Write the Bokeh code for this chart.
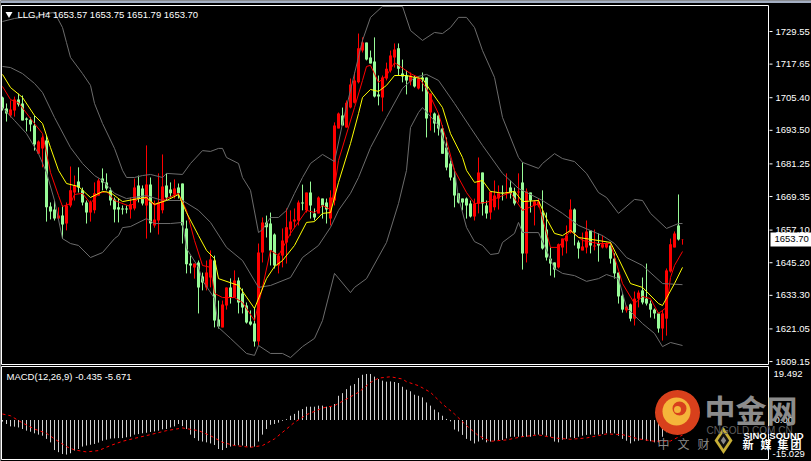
from bokeh.plotting import figure
from bokeh.models import Label, BoxAnnotation, ColumnDataSource, Range1d
from bokeh.embed import file_html
from bokeh.resources import INLINE

title_text = "LLG,H4  1653.57 1653.75 1651.79 1653.70"
macd_text = "MACD(12,26,9) -0.435 -5.671"
price_ticks = [1729.55, 1717.65, 1705.40, 1693.50, 1681.25, 1669.35, 1657.10, 1645.20, 1633.30, 1621.05, 1609.15]

opens = [1705.5,1701.5,1698.9,1700.7,1704.7,1703.3,1697.8,1697.4,1695.3,1685.0,
1686.9,1689.8,1665.7,1664.6,1661.3,1662.4,1659.5,1666.1,1670.8,1674.8,
1671.6,1667.2,1663.5,1664.3,1669.7,1675.9,1674.5,1671.6,1668.3,1665.4,
1665.0,1665.0,1664.6,1665.0,1673.4,1672.3,1666.1,1673.7,1658.8,1660.6,
1664.3,1673.4,1671.9,1670.1,1672.6,1674.1,1657.7,1644.9,1643.5,1645.3,
1640.2,1636.2,1639.8,1646.0,1624.5,1621.6,1629.6,1636.2,1632.5,1638.7,
1634.0,1629.6,1623.8,1623.0,1616.5,1648.9,1659.9,1659.5,1655.5,1644.2,
1647.8,1652.6,1657.3,1660.2,1660.6,1667.2,1664.3,1670.8,1663.2,1663.2,
1668.6,1667.2,1661.3,1667.9,1694.2,1698.9,1694.5,1701.8,1703.6,1711.0,
1722.6,1725.5,1720.1,1718.6,1706.6,1705.5,1712.4,1715.3,1720.1,1723.4,
1714.2,1713.5,1711.3,1712.8,1708.8,1712.8,1712.8,1700.0,1699.6,1698.9,
1694.2,1687.2,1681.4,1676.3,1670.5,1668.6,1668.6,1666.8,1662.1,1666.8,
1678.1,1666.1,1663.5,1665.4,1668.6,1670.8,1670.5,1672.6,1671.2,1670.8,
1674.5,1648.6,1670.8,1666.1,1666.1,1663.5,1657.3,1646.7,1645.3,1643.5,
1650.8,1653.0,1656.2,1664.6,1652.6,1649.7,1650.8,1657.0,1651.1,1652.2,
1650.8,1650.8,1651.5,1646.7,1641.6,1633.2,1627.8,1630.0,1624.8,1632.1,
1635.1,1632.1,1630.3,1628.1,1626.7,1621.2,1624.8,1642.0,1650.8,1658.8,1653.57]

closes = [1701.5,1699.6,1701.1,1704.7,1702.9,1697.1,1697.4,1695.6,1688.3,1689.4,
1690.9,1665.4,1663.9,1661.3,1662.4,1659.1,1666.1,1671.6,1673.4,1672.6,
1667.2,1663.5,1667.2,1670.5,1675.2,1674.5,1672.3,1667.9,1664.6,1664.6,
1664.6,1664.6,1666.5,1672.6,1668.6,1666.8,1673.7,1659.5,1661.0,1667.2,
1673.0,1669.0,1670.5,1672.3,1670.5,1658.8,1644.6,1644.2,1644.9,1636.2,
1638.0,1641.6,1646.4,1624.1,1621.9,1630.0,1636.2,1632.5,1638.7,1630.7,
1628.9,1623.4,1622.7,1616.5,1648.9,1659.9,1658.1,1649.7,1644.2,1647.8,
1653.3,1658.1,1660.2,1661.0,1667.2,1666.8,1670.8,1666.1,1661.7,1669.0,
1666.1,1664.6,1669.0,1695.3,1699.6,1695.3,1703.6,1710.2,1711.7,1723.4,
1725.5,1719.3,1717.9,1705.8,1705.8,1712.8,1716.0,1720.8,1723.0,1716.0,
1713.1,1711.7,1713.5,1709.5,1712.4,1712.0,1697.8,1706.9,1696.0,1694.2,
1685.0,1679.9,1676.3,1669.7,1667.2,1667.2,1666.1,1662.1,1666.8,1678.1,
1666.8,1663.2,1671.2,1669.7,1670.5,1670.5,1670.8,1670.5,1666.8,1671.2,
1648.6,1671.2,1667.9,1667.5,1667.5,1650.4,1647.1,1644.9,1642.7,1651.9,
1654.0,1655.1,1664.6,1656.2,1650.4,1651.1,1656.6,1651.5,1651.5,1651.5,
1651.9,1652.2,1646.7,1641.3,1632.9,1628.1,1629.2,1624.8,1632.1,1634.3,
1630.7,1630.3,1628.1,1626.7,1621.2,1626.7,1642.4,1651.9,1655.9,1653.7,1653.70]

highs = [1705.8,1703.3,1704.4,1705.8,1706.9,1706.2,1698.2,1698.2,1698.9,1689.8,
1691.6,1691.6,1667.2,1667.9,1665.4,1666.1,1667.2,1680.3,1677.0,1680.0,
1672.6,1667.9,1667.9,1674.5,1675.9,1679.6,1677.8,1672.6,1669.0,1668.6,
1666.1,1666.1,1669.0,1675.9,1677.0,1673.4,1688.0,1676.3,1667.9,1677.8,
1684.7,1677.8,1674.5,1675.6,1674.1,1674.1,1660.6,1647.8,1644.9,1646.0,
1641.6,1646.0,1649.7,1647.8,1631.4,1631.4,1636.2,1639.5,1642.4,1639.8,
1635.8,1630.7,1627.8,1628.9,1652.2,1661.7,1662.4,1663.5,1655.9,1648.6,
1657.7,1665.0,1664.3,1665.0,1667.9,1673.7,1670.8,1674.8,1665.0,1669.4,
1668.6,1668.6,1671.6,1696.4,1700.0,1701.8,1704.4,1712.4,1714.6,1728.8,
1727.4,1725.5,1722.6,1727.4,1713.5,1713.5,1718.2,1722.6,1725.2,1725.2,
1719.3,1715.3,1714.6,1713.5,1712.8,1714.6,1712.8,1706.9,1700.0,1699.6,
1695.3,1690.9,1682.5,1678.9,1670.5,1668.6,1669.0,1667.9,1668.6,1683.6,
1678.1,1667.9,1671.2,1675.2,1673.4,1673.4,1677.8,1675.2,1672.6,1677.8,
1681.8,1672.3,1670.8,1667.9,1668.6,1671.6,1663.5,1650.8,1645.3,1652.2,
1654.0,1658.8,1668.3,1665.0,1653.3,1656.2,1660.6,1657.0,1657.3,1655.9,
1655.1,1652.6,1652.6,1648.6,1641.6,1634.0,1629.6,1630.3,1634.7,1635.1,
1639.8,1644.9,1631.4,1628.5,1627.0,1627.8,1643.1,1654.0,1656.6,1670.1,1653.75]

lows = [1700.7,1696.7,1698.2,1698.5,1702.2,1697.1,1693.1,1693.1,1686.1,1685.0,
1680.0,1660.2,1661.0,1660.6,1661.3,1654.0,1657.0,1665.4,1667.9,1670.8,
1666.1,1659.5,1660.2,1663.2,1669.7,1671.6,1671.6,1666.1,1659.9,1659.9,
1662.8,1663.2,1661.3,1664.3,1667.2,1666.1,1654.0,1656.2,1658.0,1655.5,
1663.2,1667.9,1669.0,1668.6,1668.6,1652.2,1641.3,1641.3,1639.4,1626.7,
1635.1,1635.1,1636.2,1621.6,1621.2,1621.6,1628.1,1630.3,1632.5,1626.7,
1626.7,1623.0,1622.3,1614.6,1615.0,1645.3,1654.4,1644.2,1643.1,1641.3,
1643.5,1644.9,1655.1,1658.1,1658.8,1664.3,1663.5,1661.3,1660.6,1663.2,
1661.3,1659.5,1658.8,1666.1,1694.2,1695.3,1694.5,1701.5,1703.3,1710.6,
1721.9,1719.0,1717.9,1705.5,1702.6,1700.4,1711.7,1714.6,1716.4,1713.5,
1711.0,1706.6,1709.9,1709.1,1708.4,1707.7,1690.9,1693.4,1692.7,1691.6,
1685.0,1678.9,1675.2,1665.4,1666.8,1664.3,1661.3,1661.7,1660.6,1663.2,
1662.4,1661.3,1661.0,1664.3,1664.6,1667.9,1668.6,1668.6,1666.1,1667.2,
1642.7,1645.3,1663.5,1658.8,1665.4,1650.0,1646.0,1640.5,1639.8,1643.1,
1647.8,1648.6,1655.9,1651.5,1646.7,1649.7,1648.6,1648.6,1649.7,1645.6,
1650.4,1650.4,1644.9,1639.4,1630.3,1627.0,1627.0,1623.8,1622.3,1628.9,
1630.0,1629.6,1625.2,1624.8,1619.7,1616.8,1618.6,1641.6,1650.8,1653.3,1651.79]

upper_idx = [0,3,5,8,11,13,15,16,17,20,22,23,25,28,30,31,33,35,37,40,41,45,47,50,52,54,55,56,59,60,62,64,65,67,69,71,73,75,77,80,83,85,88,90,92,95,100,102,105,108,110,112,114,116,118,120,123,125,129,130,134,135,138,140,143,146,149,151,154,158,160,162,166,169,170]
upper_val = [1733.2,1734.3,1734.7,1734.7,1736.1,1736.5,1731.0,1725.5,1720.1,1714.2,1709.9,1703.3,1696.0,1686.9,1678.9,1676.3,1676.3,1677.0,1677.4,1676.3,1677.8,1677.4,1681.4,1686.1,1685.8,1686.9,1686.9,1683.6,1681.4,1676.3,1671.6,1656.2,1657.3,1661.7,1661.7,1664.3,1670.5,1676.3,1681.4,1684.7,1682.1,1696.0,1714.2,1726.3,1734.7,1738.7,1738.7,1729.9,1726.3,1729.2,1728.8,1731.0,1734.7,1734.7,1731.0,1722.6,1712.8,1698.2,1683.6,1681.8,1679.6,1681.4,1685.0,1683.2,1682.1,1677.8,1670.8,1669.0,1663.2,1668.3,1667.9,1663.2,1657.7,1659.5,1659.5]

mid_idx = [0,2,5,8,10,13,17,20,23,25,28,31,36,40,45,49,52,56,60,64,67,72,75,79,82,84,87,89,92,96,100,103,106,109,113,117,120,125,129,135,140,144,150,153,156,160,165,170]
mid_val = [1716.8,1716.4,1714.2,1710.6,1707.3,1698.2,1687.2,1681.4,1677.0,1675.2,1670.5,1668.6,1669.7,1667.9,1667.9,1664.3,1659.9,1650.8,1646.0,1636.2,1636.9,1639.8,1647.1,1651.5,1658.1,1664.3,1670.5,1676.3,1687.2,1698.2,1708.8,1712.8,1713.9,1711.7,1703.3,1694.5,1688.0,1677.8,1672.3,1667.9,1663.2,1658.8,1655.1,1652.2,1647.1,1644.2,1637.6,1637.2]

lower_idx = [0,3,6,9,11,13,15,17,19,22,25,28,29,30,32,36,38,42,45,46,49,50,53,54,57,61,63,64,67,70,72,75,78,80,83,87,88,91,96,99,101,102,104,105,109,113,114,116,118,120,122,124,125,128,129,130,134,136,138,140,143,146,149,151,154,156,160,163,165,167,170]
lower_val = [1701.8,1697.1,1692.3,1685.0,1678.1,1667.9,1654.0,1652.2,1651.5,1647.1,1648.9,1654.0,1655.1,1658.0,1658.4,1661.3,1659.5,1659.5,1659.9,1650.4,1643.5,1638.7,1632.2,1621.6,1617.6,1612.1,1611.4,1615.0,1612.1,1612.1,1610.6,1614.6,1617.6,1624.1,1641.3,1634.3,1636.2,1639.4,1652.6,1666.8,1678.9,1694.5,1700.0,1701.8,1695.3,1678.9,1669.0,1658.1,1652.9,1651.5,1648.2,1648.6,1652.6,1655.9,1659.9,1656.2,1656.2,1649.7,1643.1,1641.3,1640.5,1638.4,1639.4,1640.9,1639.4,1628.9,1623.0,1619.4,1614.6,1616.1,1615.0]

yellow_idx = [0,2,5,8,10,12,14,16,19,22,25,27,30,34,36,38,41,44,46,49,51,53,54,59,63,66,68,70,73,76,78,80,82,84,87,89,90,92,94,96,98,101,103,105,107,110,112,115,116,118,120,122,124,125,128,130,134,136,138,140,142,144,149,152,154,157,160,164,165,168,170]
yellow_val = [1713.9,1709.1,1705.5,1698.9,1696.0,1687.2,1678.9,1674.1,1673.0,1669.0,1671.2,1670.8,1667.5,1668.6,1669.0,1666.5,1667.9,1670.1,1663.5,1655.1,1649.7,1646.7,1639.4,1636.9,1628.5,1639.4,1643.8,1646.0,1651.5,1659.9,1660.2,1663.2,1663.5,1674.5,1688.7,1699.6,1705.5,1708.4,1707.7,1709.9,1713.5,1713.5,1712.8,1712.4,1708.0,1701.8,1692.3,1683.6,1678.9,1674.5,1675.2,1671.2,1670.8,1670.5,1671.2,1667.5,1667.9,1661.3,1655.9,1655.1,1657.0,1654.4,1653.3,1652.6,1646.7,1637.6,1636.2,1630.3,1629.6,1637.6,1643.5]

red_idx = [0,2,4,7,10,12,14,15,17,18,20,22,24,26,28,32,34,36,38,41,44,46,48,50,52,53,55,58,60,63,65,67,69,72,76,78,80,82,83,84,88,90,91,92,94,96,98,102,104,106,109,111,113,116,118,121,125,127,130,134,137,139,142,145,149,152,155,158,160,162,164,166,167,168,170]
red_val = [1709.5,1704.7,1703.6,1697.8,1692.3,1678.1,1669.7,1665.7,1666.8,1670.1,1670.5,1666.8,1670.5,1671.2,1667.9,1665.7,1668.6,1668.6,1666.1,1668.6,1670.5,1664.3,1653.3,1644.2,1643.5,1634.0,1632.5,1632.5,1630.7,1624.1,1636.2,1649.7,1647.8,1655.9,1664.3,1663.5,1666.1,1664.6,1672.6,1682.5,1701.8,1711.7,1716.8,1717.2,1711.0,1713.5,1718.2,1714.2,1712.8,1708.8,1699.6,1689.8,1678.9,1670.8,1666.8,1667.2,1669.7,1670.8,1664.3,1666.8,1650.8,1650.8,1657.0,1653.3,1652.2,1652.2,1637.6,1630.3,1632.9,1632.1,1626.7,1628.9,1639.8,1644.2,1649.3]

macd_hist = [-0.6,-1.5,-2.4,-2.5,-2.8,-3.4,-4.0,-4.4,-5.0,-5.5,-5.9,-7.1,-8.4,
-11.3,-12.1,-12.8,-13.0,-12.5,-11.5,-10.9,-10.0,-9.6,-9.3,-9.0,-8.5,-7.8,-7.4,-7.0,-6.9,-6.8,-6.8,-6.5,-6.3,-5.5,-5.3,-5.0,-4.8,-4.5,-4.3,-4.0,-3.5,-3.4,-2.8,-2.4,-1.5,
-2.3,-3.4,-5.5,-6.8,-7.8,-8.1,-8.4,-8.8,-9.4,-10.9,-11.3,-10.5,-10.0,-9.6,-9.5,-9.6,-9.9,-10.3,-10.0,-8.1,-5.5,-3.4,-1.8,-1.5,-1.0,-0.3,0.3,1.6,2.3,3.5,4.1,5.0,5.0,5.0,5.4,5.4,5.0,5.1,6.0,9.1,10.1,11.6,12.9,13.5,15.8,17.0,17.3,17.3,16.3,15.4,14.8,14.4,14.5,14.3,13.9,12.5,
11.4,10.8,9.5,9.1,8.5,6.6,5.4,3.9,2.9,1.6,0.4,-0.5,-3.6,-4.3,-5.6,-7.1,-7.8,-8.8,-8.1,-7.4,-8.4,-8.1,-7.8,-7.5,-7.5,-6.9,-6.3,-6.3,-6.3,-6.3,-6.3,-6.3,-5.5,-5.5,-5.5,-5.9,-6.3,-8.1,-8.4,-7.4,-7.1,-6.5,-6.8,-6.3,-5.9,-5.6,-5.5,-5.5,-5.5,-5.3,-5.0,-5.0,-5.0,-5.9,-7.1,-7.8,-8.8,-8.0,-7.8,-7.4,-7.8,-8.0,-8.4,-8.4,-6.3,-4.6,-3.5,-2.5,-1.5,-0.435]

signal_idx = [0,2,5,8,11,13,16,18,21,24,27,30,33,37,41,45,49,52,55,58,62,65,68,71,73,76,80,83,86,89,92,94,97,100,101,104,107,110,113,116,119,122,126,130,134,138,142,146,151,155,159,163,167,170]
signal_val = [2.25,1.6,-1.1,-3.4,-5.0,-7.1,-10.0,-11.25,-12.0,-11.5,-9.6,-8.0,-6.9,-5.5,-4.0,-3.0,-4.0,-5.9,-8.4,-9.6,-10.25,-9.6,-7.1,-3.4,-0.9,2.0,4.5,5.4,7.9,10.4,14.1,15.75,16.25,15.4,14.4,12.9,10.4,6.0,2.25,-2.1,-5.9,-8.0,-7.5,-6.25,-5.6,-6.75,-7.25,-6.75,-5.25,-5.5,-7.1,-8.0,-7.9,-5.671]

FONT = "Liberation Sans"
CJK = "Noto Sans CJK SC"
GREEN, RED, GRAY = "#98FB98", "#FF0000", "#6C6C6C"
W, H = 811, 461

def sx(px):   # pixel column -> bar index
    return (px - 2) / 4
def py(px):   # pixel row -> price
    return 1740.86 - 0.3648 * px
def my(px):   # pixel row -> MACD value
    return (419.5 - px) / 2.66

p = figure(width=W, height=H, x_range=(sx(0), sx(W)), y_range=(py(H), py(0)),
           x_axis_location=None, y_axis_location=None, toolbar_location=None,
           output_backend="svg", background_fill_color="black", border_fill_color="black",
           min_border_left=0, min_border_right=0, min_border_top=0, min_border_bottom=0,
           outline_line_color=None)
p.grid.visible = False
p.extra_y_ranges["macd"] = Range1d(my(H), my(0))
M = dict(y_range_name="macd")

def box(conv, left, right, top, bottom, **kw):
    p.segment([sx(left), sx(left), sx(right), sx(left)],
              [conv(top), conv(bottom), conv(top), conv(top)],
              [sx(right), sx(right), sx(right), sx(left)],
              [conv(top), conv(bottom), conv(bottom), conv(bottom)],
              line_color="white", line_width=1, **kw)

def lab(conv, text, px, ypx, size, color="white", font=FONT, style="normal", **kw):
    p.add_layout(Label(x=sx(px), y=conv(ypx), text=text, text_color=color, text_font=font,
                       text_font_size=size, text_baseline="middle", text_font_style=style, **kw))

# ---------- price panel ----------
p.add_layout(BoxAnnotation(left=sx(0), right=sx(W), top=py(0), bottom=py(2.5),
                           fill_color="#a3aec2", fill_alpha=1, line_color=None))

src = ColumnDataSource(dict(
    x=list(range(len(opens))), h=highs, l=lows,
    top=[max(a, b) for a, b in zip(opens, closes)],
    bot=[min(a, b) for a, b in zip(opens, closes)],
    col=[RED if c >= o else GREEN for o, c in zip(opens, closes)]))
p.segment("x", "h", "x", "l", source=src, line_color="col", line_width=1)
p.vbar("x", 0.75, "top", "bot", source=src, fill_color="col", line_color=None)

p.line(upper_idx, upper_val, line_color=GRAY, line_width=1)
p.line(mid_idx, mid_val, line_color=GRAY, line_width=1)
p.line(lower_idx, lower_val, line_color=GRAY, line_width=1)
p.line(red_idx, red_val, line_color=RED, line_width=1)
p.line(yellow_idx, yellow_val, line_color="#FFFF00", line_width=1)
box(py, 1, 768, 5, 364)
p.scatter([sx(8.5)], [py(13.5)], marker="inverted_triangle", size=7, fill_color="white", line_color=None)

p.segment([sx(769)] * len(price_ticks), price_ticks, [sx(772)] * len(price_ticks), price_ticks,
          line_color="white", line_width=1)
for t in price_ticks:
    p.add_layout(Label(x=sx(775), y=t, text=f"{t:.2f}", text_color="white", text_font=FONT,
                       text_font_size="9.5px", text_baseline="middle"))

lab(py, title_text, 17, 13.5, "9.5px")
p.add_layout(Label(x=sx(770), y=1653.70, text="1653.70", text_color="black", text_font=FONT,
                   text_font_size="9.5px", text_baseline="middle",
                   background_fill_color="white", padding=4))

# ---------- MACD panel ----------
hx = list(range(len(macd_hist)))
p.segment(hx, [0] * len(hx), hx, macd_hist, line_color="#D0D0D0", line_width=1, **M)
p.line(signal_idx, signal_val, line_color=RED, line_width=1, line_dash="3 3", **M)
box(my, 1, 768, 366, 459, **M)
p.segment([sx(769)], [0], [sx(772)], [0], line_color="white", line_width=1, **M)

lab(my, macd_text, 6, 375.5, "9.5px", **M)
lab(my, "19.492", 773, 373, "9.5px", **M)
lab(my, "0.00", 774, 419.5, "9.5px", **M)
lab(my, "-15.029", 772, 453, "9.5px", **M)

# watermark logo
p.scatter([sx(677)], [my(412)], marker="circle", size=45, fill_color="#D8401C", line_color=None, **M)
p.scatter([sx(676)], [my(411)], marker="circle", size=28, fill_color="#F5B53A", line_color=None, **M)
p.scatter([sx(679)], [my(408)], marker="circle", size=14, fill_color="#D8401C", line_color=None, **M)
p.scatter([sx(677)], [my(409)], marker="circle", size=7, fill_color="#F5B53A", line_color=None, **M)
lab(my, "中金网", 704, 408, "31px", "#8C8C8C", CJK, "bold", **M)
lab(my, "CNGOLD.COM.CN", 706, 430, "10px", "#5E5E5E", **M)
lab(my, "SINO SOUND", 743, 435, "9.5px", "white", FONT, "bold", **M)
for ch, cx in zip("中文财", [657, 677, 697]):
    lab(my, ch, cx, 443, "12px", "#8A8A8A", CJK, **M)
for ch, cx in zip("新媒集团", [742, 760, 777, 790]):
    lab(my, ch, cx, 443, "11px", "white", CJK, "bold", **M)
p.scatter([sx(723)], [my(440)], marker="diamond", size=27, fill_color="#C8B038", line_color=None, **M)
p.scatter([sx(723)], [my(440)], marker="diamond", size=17, fill_color="#111111", line_color=None, **M)
p.scatter([sx(723)], [my(440)], marker="diamond", size=8, fill_color="#8A8A8A", line_color=None, **M)

open("out.html", "w").write(file_html(p, INLINE))
